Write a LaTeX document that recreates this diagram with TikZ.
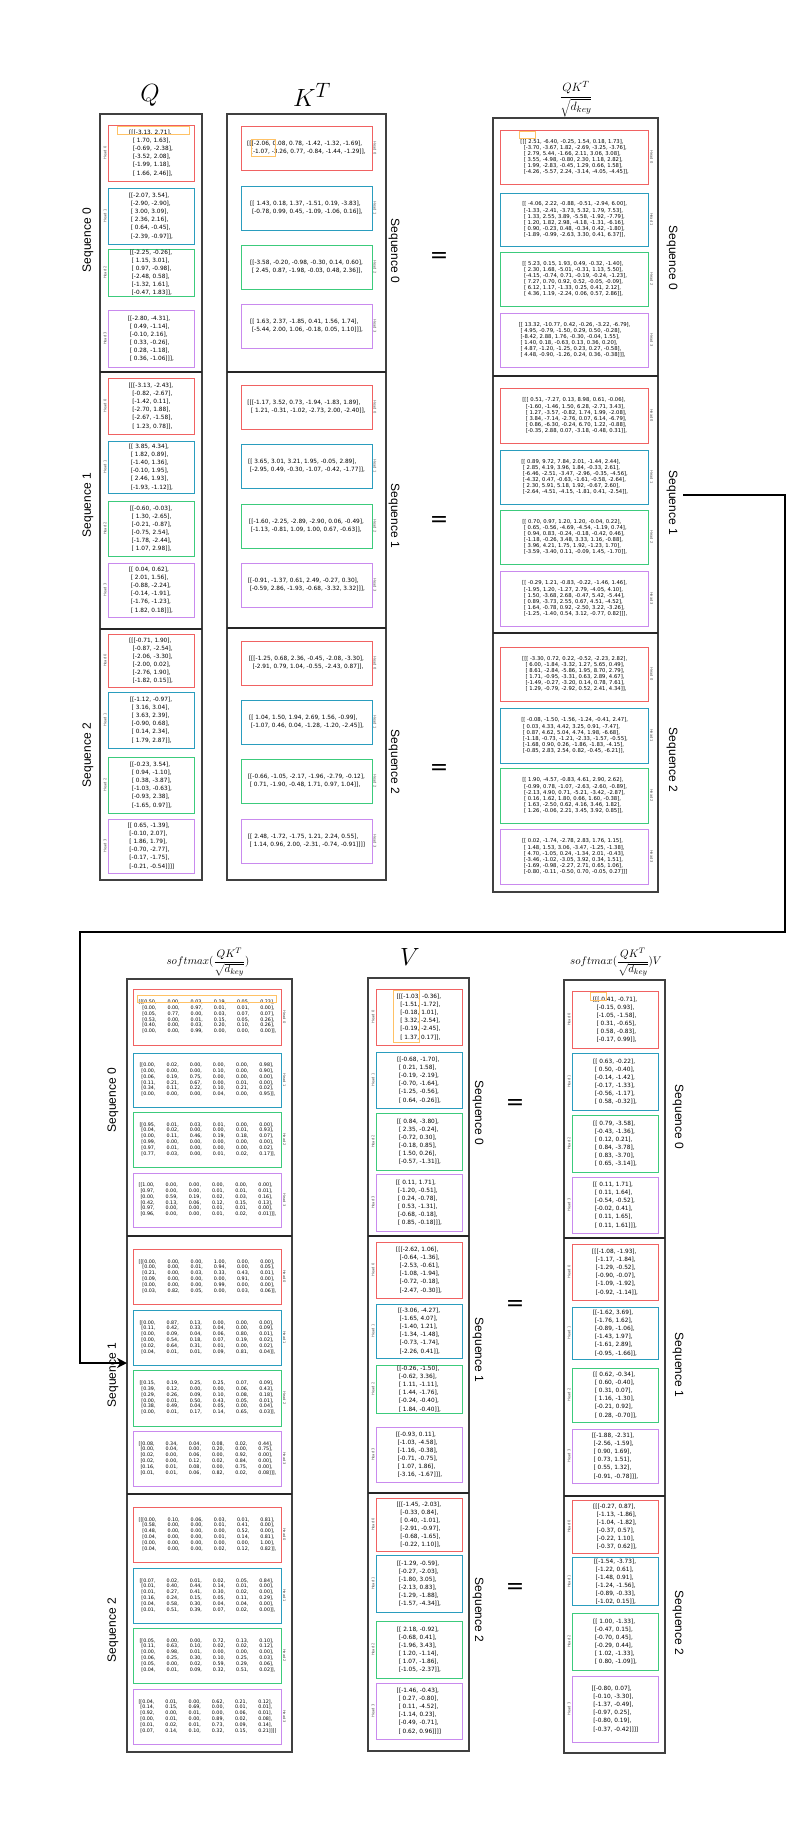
\documentclass[tikz,border=0pt]{standalone}
\usepackage{fontspec}
\setmainfont{DejaVu Sans}
\newfontfamily\seqfont{Liberation Sans}
\usetikzlibrary{arrows.meta}
\definecolor{hred}{HTML}{F06262}
\definecolor{hblue}{HTML}{2A9DBE}
\definecolor{hgreen}{HTML}{3CCB7C}
\definecolor{hviolet}{HTML}{C98AEE}
\definecolor{hamber}{HTML}{FFC266}
\newcommand{\smx}[1]{\begin{tabular}{@{}r*{5}{@{\hspace{11pt}}l}@{}}#1\end{tabular}}
\tikzset{
 hcell/.style={draw,line width=0.9pt,inner sep=0pt,align=left,font=\fontsize{5.8}{8.1}\selectfont},
 qkcell/.style={hcell,font=\fontsize{5.3}{6.1}\selectfont},
 smcell/.style={draw,line width=0.9pt,inner sep=0pt,font=\fontsize{4.8}{5.8}\selectfont},
 h0/.style={draw=hred}, h1/.style={draw=hblue}, h2/.style={draw=hgreen}, h3/.style={draw=hviolet},
 frame/.style={draw=black!75,line width=1.1pt},
 seqsep/.style={black!85,line width=1.4pt},
 hlab/.style={font=\fontsize{3.6}{4}\selectfont,text=black!70,inner sep=1pt},
 seqlab/.style={font=\seqfont\fontsize{12}{14}\selectfont},
 eqsign/.style={font=\fontsize{22}{24}\selectfont},
 hilite/.style={draw=hamber,line width=0.9pt},
 flowarrow/.style={line width=2.6pt,-{Stealth[length=10pt,width=10pt]}}
}
\begin{document}
\begin{tikzpicture}[x=1pt,y=-1pt]
\useasboundingbox (0,0) rectangle (800,1830);
% titles
\node (tq) at (150,95) {\fontsize{28}{30}\selectfont $Q$};
\node (tk) at (312,95) {\fontsize{28}{30}\selectfont $K^T$};
\node (tqk) at (576,99) {\fontsize{13}{15}\selectfont $\displaystyle\frac{QK^T}{\sqrt{d_{key}}}$};
\node (tsm) at (208,962) {\fontsize{11.4}{13}\selectfont $\displaystyle softmax(\frac{QK^T}{\sqrt{d_{key}}})$};
\node (tv) at (410,957) {\fontsize{28}{30}\selectfont $V$};
\node (tr) at (616,962) {\fontsize{11.4}{13}\selectfont $\displaystyle softmax(\frac{QK^T}{\sqrt{d_{key}}})V$};

% outer boxes
\draw[frame] (100,114) rectangle (202,880);
\draw[seqsep] (100,372) -- (202,372); \draw[seqsep] (100,629) -- (202,629);
\draw[frame] (227,114) rectangle (386,880);
\draw[seqsep] (227,372) -- (386,372); \draw[seqsep] (227,628) -- (386,628);
\draw[frame] (493,118) rectangle (658,892);
\draw[seqsep] (493,376) -- (658,376); \draw[seqsep] (493,633) -- (658,633);
\draw[frame] (127,979) rectangle (292,1752);
\draw[seqsep] (127,1236) -- (292,1236); \draw[seqsep] (127,1494) -- (292,1494);
\draw[frame] (368,978) rectangle (469,1751);
\draw[seqsep] (368,1236) -- (469,1236); \draw[seqsep] (368,1493) -- (469,1493);
\draw[frame] (564,980) rectangle (665,1753);
\draw[seqsep] (564,1238) -- (665,1238); \draw[seqsep] (564,1496) -- (665,1496);

% Q
\node[hcell,h0,minimum width=86,minimum height=56] (q0h0) at (151,153) {[[[-3.13, 2.71],\\\ \ [ 1.70, 1.63],\\\ \ [-0.69, -2.38],\\\ \ [-3.52, 2.08],\\\ \ [-1.99, 1.18],\\\ \ [ 1.66, 2.46]],};
\node[hcell,h1,minimum width=86,minimum height=56] (q0h1) at (151,216) {[[-2.07, 3.54],\\\ [-2.90, -2.90],\\\ [ 3.00, 3.09],\\\ [ 2.36, 2.16],\\\ [ 0.64, -0.45],\\\ [-2.39, -0.97]],};
\node[hcell,h2,minimum width=86,minimum height=47] (q0h2) at (151,272.5) {[[-2.25, -0.26],\\\ [ 1.15, 3.01],\\\ [ 0.97, -0.98],\\\ [-2.48, 0.58],\\\ [-1.32, 1.61],\\\ [-0.47, 1.83]],};
\node[hcell,h3,minimum width=86,minimum height=57] (q0h3) at (151,338.5) {[[-2.80, -4.31],\\\ [ 0.49, -1.14],\\\ [-0.10, 2.16],\\\ [ 0.33, -0.26],\\\ [ 0.28, -1.18],\\\ [ 0.36, -1.06]]],};
\node[hcell,h0,minimum width=86,minimum height=56] (q1h0) at (151,406) {[[[-3.13, -2.43],\\\ \ [-0.82, -2.67],\\\ \ [-1.42, 0.11],\\\ \ [-2.70, 1.88],\\\ \ [-2.67, -1.58],\\\ \ [ 1.23, 0.78]],};
\node[hcell,h1,minimum width=86,minimum height=52] (q1h1) at (151,467) {[[ 3.85, 4.34],\\\ [ 1.82, 0.89],\\\ [-1.40, 1.36],\\\ [-0.10, 1.95],\\\ [ 2.46, 1.93],\\\ [-1.93, -1.12]],};
\node[hcell,h2,minimum width=86,minimum height=55] (q1h2) at (151,528.5) {[[-0.60, -0.03],\\\ [ 1.30, -2.65],\\\ [-0.21, -0.87],\\\ [-0.75, 2.54],\\\ [-1.78, -2.44],\\\ [ 1.07, 2.98]],};
\node[hcell,h3,minimum width=86,minimum height=54] (q1h3) at (151,590) {[[ 0.04, 0.62],\\\ [ 2.01, 1.56],\\\ [-0.88, -2.24],\\\ [-0.14, -1.91],\\\ [-1.76, -1.23],\\\ [ 1.82, 0.18]]],};
\node[hcell,h0,minimum width=86,minimum height=53] (q2h0) at (151,660.5) {[[[-0.71, 1.90],\\\ \ [-0.87, -2.54],\\\ \ [-2.06, -3.30],\\\ \ [-2.00, 0.02],\\\ \ [-2.76, 1.90],\\\ \ [-1.82, 0.15]],};
\node[hcell,h1,minimum width=86,minimum height=56] (q2h1) at (151,720) {[[-1.12, -0.97],\\\ [ 3.16, 3.04],\\\ [ 3.63, 2.39],\\\ [-0.90, 0.68],\\\ [ 0.14, 2.34],\\\ [ 1.79, 2.87]],};
\node[hcell,h2,minimum width=86,minimum height=56] (q2h2) at (151,785) {[[-0.23, 3.54],\\\ [ 0.94, -1.10],\\\ [ 0.38, -3.87],\\\ [-1.03, -0.63],\\\ [-0.93, 2.38],\\\ [-1.65, 0.97]],};
\node[hcell,h3,minimum width=86,minimum height=54] (q2h3) at (151,846) {[[ 0.65, -1.39],\\\ [-0.10, 2.07],\\\ [ 1.86, 1.79],\\\ [-0.70, -2.77],\\\ [-0.17, -1.75],\\\ [-0.21, -0.54]]]]};
\draw[hilite] (117,126) rectangle (189,134);

% K^T
\node[hcell,h0,minimum width=131,minimum height=44] (k0h0) at (306.5,148) {[[[-2.06, 0.08, 0.78, -1.42, -1.32, -1.69],\\\ \ [-1.07, -3.26, 0.77, -0.84, -1.44, -1.29]],};
\node[hcell,h1,minimum width=131,minimum height=44] (k0h1) at (306.5,208) {[[ 1.43, 0.18, 1.37, -1.51, 0.19, -3.83],\\\ [-0.78, 0.99, 0.45, -1.09, -1.06, 0.16]],};
\node[hcell,h2,minimum width=131,minimum height=44] (k0h2) at (306.5,267) {[[-3.58, -0.20, -0.98, -0.30, 0.14, 0.60],\\\ [ 2.45, 0.87, -1.98, -0.03, 0.48, 2.36]],};
\node[hcell,h3,minimum width=131,minimum height=44] (k0h3) at (306.5,326) {[[ 1.63, 2.37, -1.85, 0.41, 1.56, 1.74],\\\ [-5.44, 2.00, 1.06, -0.18, 0.05, 1.10]]],};
\node[hcell,h0,minimum width=131,minimum height=44] (k1h0) at (306.5,407) {[[[-1.17, 3.52, 0.73, -1.94, -1.83, 1.89],\\\ \ [ 1.21, -0.31, -1.02, -2.73, 2.00, -2.40]],};
\node[hcell,h1,minimum width=131,minimum height=44] (k1h1) at (306.5,466) {[[ 3.65, 3.01, 3.21, 1.95, -0.05, 2.89],\\\ [-2.95, 0.49, -0.30, -1.07, -0.42, -1.77]],};
\node[hcell,h2,minimum width=131,minimum height=44] (k1h2) at (306.5,526) {[[-1.60, -2.25, -2.89, -2.90, 0.06, -0.49],\\\ [-1.13, -0.81, 1.09, 1.00, 0.67, -0.63]],};
\node[hcell,h3,minimum width=131,minimum height=44] (k1h3) at (306.5,585) {[[-0.91, -1.37, 0.61, 2.49, -0.27, 0.30],\\\ [-0.59, 2.86, -1.93, -0.68, -3.32, 3.32]]],};
\node[hcell,h0,minimum width=131,minimum height=44] (k2h0) at (306.5,663) {[[[-1.25, 0.68, 2.36, -0.45, -2.08, -3.30],\\\ \ [-2.91, 0.79, 1.04, -0.55, -2.43, 0.87]],};
\node[hcell,h1,minimum width=131,minimum height=44] (k2h1) at (306.5,722) {[[ 1.04, 1.50, 1.94, 2.69, 1.56, -0.99],\\\ [-1.07, 0.46, 0.04, -1.28, -1.20, -2.45]],};
\node[hcell,h2,minimum width=131,minimum height=44] (k2h2) at (306.5,781) {[[-0.66, -1.05, -2.17, -1.96, -2.79, -0.12],\\\ [ 0.71, -1.90, -0.48, 1.71, 0.97, 1.04]],};
\node[hcell,h3,minimum width=131,minimum height=44] (k2h3) at (306.5,841) {[[ 2.48, -1.72, -1.75, 1.21, 2.24, 0.55],\\\ [ 1.14, 0.96, 2.00, -2.31, -0.74, -0.91]]]]};
\draw[hilite] (251,139) rectangle (275,156);

% QK^T / sqrt(d_key)
\node[qkcell,h0,minimum width=148,minimum height=54] (s0h0) at (574.7,157) {[[[ 2.51, -6.40, -0.25, 1.54, 0.18, 1.73],\\\ \ [-3.70, -3.67, 1.82, -2.69, -3.25, -3.76],\\\ \ [ 2.79, 5.44, -1.66, 2.11, 3.06, 3.08],\\\ \ [ 3.55, -4.98, -0.80, 2.30, 1.18, 2.82],\\\ \ [ 1.99, -2.83, -0.45, 1.29, 0.66, 1.58],\\\ \ [-4.26, -5.57, 2.24, -3.14, -4.05, -4.45]],};
\node[qkcell,h1,minimum width=148,minimum height=53] (s0h1) at (574.7,219.5) {[[ -4.06, 2.22, -0.88, -0.51, -2.94, 6.00],\\\ [-1.33, -2.41, -3.73, 5.32, 1.79, 7.53],\\\ [ 1.33, 2.55, 3.89, -5.58, -1.92, -7.79],\\\ [ 1.20, 1.82, 2.98, -4.18, -1.31, -6.16],\\\ [ 0.90, -0.23, 0.48, -0.34, 0.42, -1.80],\\\ [-1.89, -0.99, -2.63, 3.30, 0.41, 6.37]],};
\node[qkcell,h2,minimum width=148,minimum height=54] (s0h2) at (574.7,279) {[[ 5.23, 0.15, 1.93, 0.49, -0.32, -1.40],\\\ [ 2.30, 1.68, -5.01, -0.31, 1.13, 5.50],\\\ [-4.15, -0.74, 0.71, -0.19, -0.24, -1.23],\\\ [ 7.27, 0.70, 0.92, 0.52, -0.05, -0.09],\\\ [ 6.12, 1.17, -1.33, 0.25, 0.41, 2.12],\\\ [ 4.36, 1.19, -2.24, 0.06, 0.57, 2.86]],};
\node[qkcell,h3,minimum width=148,minimum height=54] (s0h3) at (574.7,340) {[[ 13.32, -10.77, 0.42, -0.26, -3.22, -6.79],\\\ [ 4.95, -0.79, -1.50, 0.29, 0.50, -0.28],\\\ [-8.42, 2.88, 1.76, -0.30, -0.04, 1.55],\\\ [ 1.40, 0.18, -0.63, 0.13, 0.36, 0.20],\\\ [ 4.87, -1.20, -1.25, 0.23, 0.27, -0.58],\\\ [ 4.48, -0.90, -1.26, 0.24, 0.36, -0.38]]],};
\node[qkcell,h0,minimum width=148,minimum height=55] (s1h0) at (574.7,415.5) {[[[ 0.51, -7.27, 0.13, 8.98, 0.61, -0.06],\\\ \ [-1.60, -1.46, 1.50, 6.28, -2.71, 3.43],\\\ \ [ 1.27, -3.57, -0.82, 1.74, 1.99, -2.08],\\\ \ [ 3.84, -7.14, -2.76, 0.07, 6.14, -6.79],\\\ \ [ 0.86, -6.30, -0.24, 6.70, 1.22, -0.88],\\\ \ [-0.35, 2.88, 0.07, -3.18, -0.48, 0.31]],};
\node[qkcell,h1,minimum width=148,minimum height=54] (s1h1) at (574.7,477) {[[ 0.89, 9.72, 7.84, 2.01, -1.44, 2.44],\\\ [ 2.85, 4.19, 3.96, 1.84, -0.33, 2.61],\\\ [-6.46, -2.51, -3.47, -2.96, -0.35, -4.56],\\\ [-4.32, 0.47, -0.63, -1.61, -0.58, -2.64],\\\ [ 2.30, 5.91, 5.18, 1.92, -0.67, 2.60],\\\ [-2.64, -4.51, -4.15, -1.81, 0.41, -2.54]],};
\node[qkcell,h2,minimum width=148,minimum height=54] (s1h2) at (574.7,537) {[[ 0.70, 0.97, 1.20, 1.20, -0.04, 0.22],\\\ [ 0.65, -0.56, -4.69, -4.54, -1.19, 0.74],\\\ [ 0.94, 0.83, -0.24, -0.18, -0.42, 0.46],\\\ [-1.18, -0.26, 3.48, 3.33, 1.16, -0.88],\\\ [ 3.96, 4.21, 1.75, 1.92, -1.23, 1.70],\\\ [-3.59, -3.40, 0.11, -0.09, 1.45, -1.70]],};
\node[qkcell,h3,minimum width=148,minimum height=55] (s1h3) at (574.7,598.5) {[[ -0.29, 1.21, -0.83, -0.22, -1.46, 1.46],\\\ [-1.95, 1.20, -1.27, 2.79, -4.05, 4.10],\\\ [ 1.50, -3.68, 2.68, -0.47, 5.42, -5.44],\\\ [ 0.89, -3.73, 2.55, 0.67, 4.51, -4.52],\\\ [ 1.64, -0.78, 0.92, -2.50, 3.22, -3.26],\\\ [-1.25, -1.40, 0.54, 3.12, -0.77, 0.82]]],};
\node[qkcell,h0,minimum width=148,minimum height=54] (s2h0) at (574.7,674) {[[[ -3.30, 0.72, 0.22, -0.52, -2.23, 2.82],\\\ \ [ 6.00, -1.84, -3.32, 1.27, 5.65, 0.49],\\\ \ [ 8.61, -2.84, -5.86, 1.95, 8.70, 2.79],\\\ \ [ 1.71, -0.95, -3.31, 0.63, 2.89, 4.67],\\\ \ [-1.49, -0.27, -3.20, 0.14, 0.78, 7.61],\\\ \ [ 1.29, -0.79, -2.92, 0.52, 2.41, 4.34]],};
\node[qkcell,h1,minimum width=148,minimum height=55] (s2h1) at (574.7,735.5) {[[ -0.08, -1.50, -1.56, -1.24, -0.41, 2.47],\\\ [ 0.03, 4.33, 4.42, 3.25, 0.91, -7.47],\\\ [ 0.87, 4.62, 5.04, 4.74, 1.98, -6.68],\\\ [-1.18, -0.73, -1.21, -2.33, -1.57, -0.55],\\\ [-1.68, 0.90, 0.26, -1.86, -1.83, -4.15],\\\ [-0.85, 2.83, 2.54, 0.82, -0.45, -6.21]],};
\node[qkcell,h2,minimum width=148,minimum height=55] (s2h2) at (574.7,795.5) {[[ 1.90, -4.57, -0.83, 4.61, 2.90, 2.62],\\\ [-0.99, 0.78, -1.07, -2.63, -2.60, -0.89],\\\ [-2.13, 4.90, 0.71, -5.21, -3.42, -2.87],\\\ [ 0.16, 1.62, 1.80, 0.66, 1.60, -0.38],\\\ [ 1.63, -2.50, 0.62, 4.16, 3.46, 1.82],\\\ [ 1.26, -0.06, 2.21, 3.45, 3.92, 0.85]],};
\node[qkcell,h3,minimum width=148,minimum height=55] (s2h3) at (574.7,856.5) {[[ 0.02, -1.74, -2.78, 2.83, 1.76, 1.15],\\\ [ 1.48, 1.53, 3.06, -3.47, -1.25, -1.38],\\\ [ 4.70, -1.05, 0.24, -1.34, 2.01, -0.43],\\\ [-3.46, -1.02, -3.05, 3.92, 0.34, 1.51],\\\ [-1.69, -0.98, -2.27, 2.71, 0.65, 1.06],\\\ [-0.80, -0.11, -0.50, 0.70, -0.05, 0.27]]]};
\draw[hilite] (519,131) rectangle (535,138.5);

% softmax
\node[smcell,h0,minimum width=148,minimum height=56] (m0h0) at (207.5,1017) {\smx{[[[0.50,&0.00,&0.03,&0.19,&0.05,&0.23],\\{}[0.00,&0.00,&0.97,&0.01,&0.01,&0.00],\\{}[0.05,&0.77,&0.00,&0.03,&0.07,&0.07],\\{}[0.53,&0.00,&0.01,&0.15,&0.05,&0.26],\\{}[0.40,&0.00,&0.03,&0.20,&0.10,&0.26],\\{}[0.00,&0.00,&0.99,&0.00,&0.00,&0.00]],}};
\node[smcell,h1,minimum width=148,minimum height=54] (m0h1) at (207.5,1080) {\smx{[[0.00,&0.02,&0.00,&0.00,&0.00,&0.98],\\{}[0.00,&0.00,&0.00,&0.10,&0.00,&0.90],\\{}[0.06,&0.19,&0.75,&0.00,&0.00,&0.00],\\{}[0.11,&0.21,&0.67,&0.00,&0.01,&0.00],\\{}[0.34,&0.11,&0.22,&0.10,&0.21,&0.02],\\{}[0.00,&0.00,&0.00,&0.04,&0.00,&0.95]],}};
\node[smcell,h2,minimum width=148,minimum height=55] (m0h2) at (207.5,1139.5) {\smx{[[0.95,&0.01,&0.03,&0.01,&0.00,&0.00],\\{}[0.04,&0.02,&0.00,&0.00,&0.01,&0.93],\\{}[0.00,&0.11,&0.46,&0.19,&0.18,&0.07],\\{}[0.99,&0.00,&0.00,&0.00,&0.00,&0.00],\\{}[0.97,&0.01,&0.00,&0.00,&0.00,&0.02],\\{}[0.77,&0.03,&0.00,&0.01,&0.02,&0.17]],}};
\node[smcell,h3,minimum width=148,minimum height=54] (m0h3) at (207.5,1200) {\smx{[[1.00,&0.00,&0.00,&0.00,&0.00,&0.00],\\{}[0.97,&0.00,&0.00,&0.01,&0.01,&0.01],\\{}[0.00,&0.59,&0.19,&0.02,&0.03,&0.16],\\{}[0.42,&0.13,&0.06,&0.12,&0.15,&0.13],\\{}[0.97,&0.00,&0.00,&0.01,&0.01,&0.00],\\{}[0.96,&0.00,&0.00,&0.01,&0.02,&0.01]]],}};
\node[smcell,h0,minimum width=148,minimum height=55] (m1h0) at (207.5,1276.5) {\smx{[[[0.00,&0.00,&0.00,&1.00,&0.00,&0.00],\\{}[0.00,&0.00,&0.01,&0.94,&0.00,&0.05],\\{}[0.21,&0.00,&0.03,&0.33,&0.43,&0.01],\\{}[0.09,&0.00,&0.00,&0.00,&0.91,&0.00],\\{}[0.00,&0.00,&0.00,&0.99,&0.00,&0.00],\\{}[0.03,&0.82,&0.05,&0.00,&0.03,&0.06]],}};
\node[smcell,h1,minimum width=148,minimum height=55] (m1h1) at (207.5,1337.5) {\smx{[[0.00,&0.87,&0.13,&0.00,&0.00,&0.00],\\{}[0.11,&0.42,&0.33,&0.04,&0.00,&0.09],\\{}[0.00,&0.09,&0.04,&0.06,&0.80,&0.01],\\{}[0.00,&0.54,&0.18,&0.07,&0.19,&0.02],\\{}[0.02,&0.64,&0.31,&0.01,&0.00,&0.02],\\{}[0.04,&0.01,&0.01,&0.09,&0.81,&0.04]],}};
\node[smcell,h2,minimum width=148,minimum height=56] (m1h2) at (207.5,1398) {\smx{[[0.15,&0.19,&0.25,&0.25,&0.07,&0.09],\\{}[0.39,&0.12,&0.00,&0.00,&0.06,&0.43],\\{}[0.29,&0.26,&0.09,&0.10,&0.08,&0.18],\\{}[0.00,&0.01,&0.50,&0.43,&0.05,&0.01],\\{}[0.38,&0.49,&0.04,&0.05,&0.00,&0.04],\\{}[0.00,&0.01,&0.17,&0.14,&0.65,&0.03]],}};
\node[smcell,h3,minimum width=148,minimum height=55] (m1h3) at (207.5,1458.5) {\smx{[[0.08,&0.34,&0.04,&0.08,&0.02,&0.44],\\{}[0.00,&0.04,&0.00,&0.20,&0.00,&0.75],\\{}[0.02,&0.00,&0.06,&0.00,&0.92,&0.00],\\{}[0.02,&0.00,&0.12,&0.02,&0.84,&0.00],\\{}[0.16,&0.01,&0.08,&0.00,&0.75,&0.00],\\{}[0.01,&0.01,&0.06,&0.82,&0.02,&0.08]]],}};
\node[smcell,h0,minimum width=148,minimum height=55] (m2h0) at (207.5,1534.5) {\smx{[[[0.00,&0.10,&0.06,&0.03,&0.01,&0.81],\\{}[0.58,&0.00,&0.00,&0.01,&0.41,&0.00],\\{}[0.48,&0.00,&0.00,&0.00,&0.52,&0.00],\\{}[0.04,&0.00,&0.00,&0.01,&0.14,&0.81],\\{}[0.00,&0.00,&0.00,&0.00,&0.00,&1.00],\\{}[0.04,&0.00,&0.00,&0.02,&0.12,&0.82]],}};
\node[smcell,h1,minimum width=148,minimum height=55] (m2h1) at (207.5,1595.5) {\smx{[[0.07,&0.02,&0.01,&0.02,&0.05,&0.84],\\{}[0.01,&0.40,&0.44,&0.14,&0.01,&0.00],\\{}[0.01,&0.27,&0.41,&0.30,&0.02,&0.00],\\{}[0.16,&0.24,&0.15,&0.05,&0.11,&0.29],\\{}[0.04,&0.58,&0.30,&0.04,&0.04,&0.00],\\{}[0.01,&0.51,&0.39,&0.07,&0.02,&0.00]],}};
\node[smcell,h2,minimum width=148,minimum height=55] (m2h2) at (207.5,1655.5) {\smx{[[0.05,&0.00,&0.00,&0.72,&0.13,&0.10],\\{}[0.11,&0.63,&0.10,&0.02,&0.02,&0.12],\\{}[0.00,&0.98,&0.01,&0.00,&0.00,&0.00],\\{}[0.06,&0.25,&0.30,&0.10,&0.25,&0.03],\\{}[0.05,&0.00,&0.02,&0.59,&0.29,&0.06],\\{}[0.04,&0.01,&0.09,&0.32,&0.51,&0.02]],}};
\node[smcell,h3,minimum width=148,minimum height=55] (m2h3) at (207.5,1716.5) {\smx{[[0.04,&0.01,&0.00,&0.62,&0.21,&0.12],\\{}[0.14,&0.15,&0.69,&0.00,&0.01,&0.01],\\{}[0.92,&0.00,&0.01,&0.00,&0.06,&0.01],\\{}[0.00,&0.01,&0.00,&0.89,&0.02,&0.08],\\{}[0.01,&0.02,&0.01,&0.73,&0.09,&0.14],\\{}[0.07,&0.14,&0.10,&0.32,&0.15,&0.21]]]]}};
\draw[hilite] (137,995) rectangle (276,1002);

% V
\node[hcell,h0,minimum width=86,minimum height=56] (v0h0) at (419,1017) {[[[-1.03, -0.36],\\\ \ [-1.51, -1.72],\\\ \ [-0.18, 1.01],\\\ \ [ 3.32, -2.54],\\\ \ [-0.19, -2.45],\\\ \ [ 1.37, 0.17]],};
\node[hcell,h1,minimum width=86,minimum height=56] (v0h1) at (419,1080) {[[-0.68, -1.70],\\\ [ 0.21, 1.58],\\\ [-0.19, -2.19],\\\ [-0.70, -1.64],\\\ [-1.25, -0.56],\\\ [ 0.64, -0.26]],};
\node[hcell,h2,minimum width=86,minimum height=57] (v0h2) at (419,1141.5) {[[ 0.84, -3.80],\\\ [ 2.35, -0.24],\\\ [-0.72, 0.30],\\\ [-0.18, 0.85],\\\ [ 1.50, 0.26],\\\ [-0.57, -1.31]],};
\node[hcell,h3,minimum width=86,minimum height=57] (v0h3) at (419,1202.5) {[[ 0.11, 1.71],\\\ [-1.20, -0.51],\\\ [ 0.24, -0.78],\\\ [ 0.53, -1.31],\\\ [-0.68, -0.18],\\\ [ 0.85, -0.18]]],};
\node[hcell,h0,minimum width=86,minimum height=56] (v1h0) at (419,1270) {[[[-2.62, 1.06],\\\ \ [-0.64, -1.36],\\\ \ [-2.53, -0.61],\\\ \ [-1.08, -1.94],\\\ \ [-0.72, -0.18],\\\ \ [-2.47, -0.30]],};
\node[hcell,h1,minimum width=86,minimum height=54] (v1h1) at (419,1331) {[[-3.06, -4.27],\\\ [-1.65, 4.07],\\\ [-1.40, 1.21],\\\ [-1.34, -1.48],\\\ [-0.73, -1.74],\\\ [-2.26, 0.41]],};
\node[hcell,h2,minimum width=86,minimum height=48] (v1h2) at (419,1389) {[[-0.26, -1.50],\\\ [-0.62, 3.36],\\\ [ 1.11, -1.11],\\\ [ 1.44, -1.76],\\\ [-0.24, -0.40],\\\ [ 1.84, -0.40]],};
\node[hcell,h3,minimum width=86,minimum height=55] (v1h3) at (419,1454.5) {[[-0.93, 0.11],\\\ [-1.03, -4.58],\\\ [-1.16, -0.38],\\\ [-0.71, -0.75],\\\ [ 1.07, 1.86],\\\ [-3.16, -1.67]]],};
\node[hcell,h0,minimum width=86,minimum height=53] (v2h0) at (419,1524.5) {[[[-1.45, -2.03],\\\ \ [-0.33, 0.84],\\\ \ [ 0.40, -1.01],\\\ \ [-2.91, -0.97],\\\ \ [-0.68, -1.65],\\\ \ [-0.22, 1.10]],};
\node[hcell,h1,minimum width=86,minimum height=57] (v2h1) at (419,1583.5) {[[-1.29, -0.59],\\\ [-0.27, -2.03],\\\ [-1.80, 3.05],\\\ [-2.13, 0.83],\\\ [-1.29, -1.88],\\\ [-1.57, -4.34]],};
\node[hcell,h2,minimum width=86,minimum height=57] (v2h2) at (419,1649.5) {[[ 2.18, -0.92],\\\ [-0.68, 0.41],\\\ [-1.96, 3.43],\\\ [ 1.20, -1.14],\\\ [ 1.07, -1.86],\\\ [-1.05, -2.37]],};
\node[hcell,h3,minimum width=86,minimum height=56] (v2h3) at (419,1711) {[[-1.46, -0.43],\\\ [ 0.27, -0.80],\\\ [ 0.11, -4.52],\\\ [-1.14, 0.23],\\\ [-0.49, -0.71],\\\ [ 0.62, 0.96]]]]};
\draw[hilite] (393,990) rectangle (419,1042);

% softmax(...)V
\node[hcell,h0,minimum width=86,minimum height=57] (r0h0) at (615,1019.5) {[[[ 0.41, -0.71],\\\ \ [-0.15, 0.93],\\\ \ [-1.05, -1.58],\\\ \ [ 0.31, -0.65],\\\ \ [ 0.58, -0.83],\\\ \ [-0.17, 0.99]],};
\node[hcell,h1,minimum width=86,minimum height=57] (r0h1) at (615,1081.5) {[[ 0.63, -0.22],\\\ [ 0.50, -0.40],\\\ [-0.14, -1.42],\\\ [-0.17, -1.33],\\\ [-0.56, -1.17],\\\ [ 0.58, -0.32]],};
\node[hcell,h2,minimum width=86,minimum height=57] (r0h2) at (615,1143.5) {[[ 0.79, -3.58],\\\ [-0.43, -1.36],\\\ [ 0.12, 0.21],\\\ [ 0.84, -3.78],\\\ [ 0.83, -3.70],\\\ [ 0.65, -3.14]],};
\node[hcell,h3,minimum width=86,minimum height=56] (r0h3) at (615,1205) {[[ 0.11, 1.71],\\\ [ 0.11, 1.64],\\\ [-0.54, -0.52],\\\ [-0.02, 0.41],\\\ [ 0.11, 1.65],\\\ [ 0.11, 1.61]]],};
\node[hcell,h0,minimum width=86,minimum height=56] (r1h0) at (615,1272) {[[[-1.08, -1.93],\\\ \ [-1.17, -1.84],\\\ \ [-1.29, -0.52],\\\ \ [-0.90, -0.07],\\\ \ [-1.09, -1.92],\\\ \ [-0.92, -1.14]],};
\node[hcell,h1,minimum width=86,minimum height=52] (r1h1) at (615,1333) {[[-1.62, 3.69],\\\ [-1.76, 1.62],\\\ [-0.89, -1.06],\\\ [-1.43, 1.97],\\\ [-1.61, 2.89],\\\ [-0.95, -1.66]],};
\node[hcell,h2,minimum width=86,minimum height=54] (r1h2) at (615,1395) {[[ 0.62, -0.34],\\\ [ 0.60, -0.40],\\\ [ 0.31, 0.07],\\\ [ 1.16, -1.30],\\\ [-0.21, 0.92],\\\ [ 0.28, -0.70]],};
\node[hcell,h3,minimum width=86,minimum height=54] (r1h3) at (615,1456) {[[-1.88, -2.31],\\\ [-2.56, -1.59],\\\ [ 0.90, 1.69],\\\ [ 0.73, 1.51],\\\ [ 0.55, 1.32],\\\ [-0.91, -0.78]]],};
\node[hcell,h0,minimum width=86,minimum height=53] (r2h0) at (615,1526.5) {[[[-0.27, 0.87],\\\ \ [-1.13, -1.86],\\\ \ [-1.04, -1.82],\\\ \ [-0.37, 0.57],\\\ \ [-0.22, 1.10],\\\ \ [-0.37, 0.62]],};
\node[hcell,h1,minimum width=86,minimum height=48] (r2h1) at (615,1581.5) {[[-1.54, -3.73],\\\ [-1.22, 0.61],\\\ [-1.48, 0.91],\\\ [-1.24, -1.56],\\\ [-0.89, -0.33],\\\ [-1.02, 0.15]],};
\node[hcell,h2,minimum width=86,minimum height=57] (r2h2) at (615,1641.5) {[[ 1.00, -1.33],\\\ [-0.47, 0.15],\\\ [-0.70, 0.45],\\\ [-0.29, 0.44],\\\ [ 1.02, -1.33],\\\ [ 0.80, -1.09]],};
\node[hcell,h3,minimum width=86,minimum height=66] (r2h3) at (615,1709) {[[-0.80, 0.07],\\\ [-0.10, -3.30],\\\ [-1.37, -0.49],\\\ [-0.97, 0.25],\\\ [-0.80, 0.19],\\\ [-0.37, -0.42]]]]};
\draw[hilite] (590,992.5) rectangle (606.5,1000);

% head labels
\foreach \s in {0,1,2}{\foreach \h in {0,1,2,3}{
 \node[hlab,rotate=90,anchor=south] at (q\s h\h.west) {Head \h};
 \node[hlab,rotate=-90,anchor=south] at (k\s h\h.east) {Head \h};
 \node[hlab,rotate=-90,anchor=south] at (s\s h\h.east) {Head \h};
 \node[hlab,rotate=-90,anchor=south] at (m\s h\h.east) {Head \h};
 \node[hlab,rotate=90,anchor=south] at (v\s h\h.west) {Head \h};
 \node[hlab,rotate=90,anchor=south] at (r\s h\h.west) {Head \h};
}}

% sequence labels and equals signs
\foreach \s/\y/\k/\e/\r in {0/240/251/258/258,1/505/516/521/503,2/755/762/769/760}{
 \node[seqlab,rotate=90] (lq\s) at (88,\y) {Sequence \s};
 \node[seqlab,rotate=-90] (lk\s) at (394,\k) {Sequence \s};
 \node[eqsign] (e\s) at (439,\e) {=};
 \node[seqlab,rotate=-90] (ls\s) at (672,\r) {Sequence \s};
}
\foreach \s/\y/\v/\e/\r in {0/1100/1113/1104/1117,1/1375/1350/1305/1365,2/1630/1610/1588/1623}{
 \node[seqlab,rotate=90] (lm\s) at (113,\y) {Sequence \s};
 \node[seqlab,rotate=-90] (lv\s) at (478,\v) {Sequence \s};
 \node[eqsign] (f\s) at (515,\e) {=};
 \node[seqlab,rotate=-90] (lr\s) at (678,\r) {Sequence \s};
}

% arrow to the next step
\coordinate (a0) at (683,495);
\coordinate (a1) at (785,932);
\coordinate (a2) at (80,932);
\coordinate (a3) at (127,1363);
\draw[flowarrow] (a0) -| (a1) -- (a2) |- (a3);
\end{tikzpicture}
\end{document}
